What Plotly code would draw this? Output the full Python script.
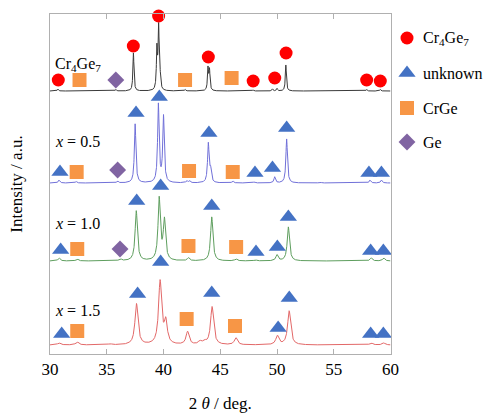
import numpy as np
import plotly.graph_objects as go

# ---------------- data ----------------
two_theta = np.linspace(30, 60, 3001)

# peak lists (position, height) for each pattern; baselines are vertical offsets
black_pos = [30.7, 35.8, 37.35, 39.42, 39.57, 39.7, 41.9, 43.92, 44.05, 47.9, 49.6, 50.0, 50.78, 57.9, 59.1]
black_h = [2, 1.5, 38, 40, 62, 12, 1.5, 22, 20, 1, 2, 2.5, 26, 1.5, 1.5]
black_w = 0.055
black_base = 263

blue_pos = [30.8, 32.3, 35.95, 37.5, 39.55, 40.0, 42.05, 42.3, 43.95, 44.15, 46.1, 48.0, 49.8, 50.85, 53.8, 58.2, 59.2]
blue_h = [3, 1.5, 2, 59, 78, 66, 2, 2, 39, 12, 2, 1, 6, 44, 1, 3, 3]
blue_w = 0.08
blue_base = 171

green_pos = [30.8, 32.4, 36.2, 37.6, 39.62, 40.08, 42.2, 44.25, 46.4, 48.1, 50.0, 51.0, 58.3, 59.4]
green_h = [3, 2, 2, 50, 62, 40, 3, 44, 2, 1, 6, 34, 3, 3]
green_w = 0.12
green_base = 93

red_pos = [30.8, 32.4, 35.3, 37.62, 39.7, 40.2, 42.12, 43.2, 43.6, 44.28, 46.38, 50.03, 51.07, 58.3, 59.4]
red_h = [2, 3, 1, 41, 63, 22, 13, 3, 3, 38, 7, 9, 34, 2, 2]
red_w = 0.16
red_base = 9

# phase markers per pattern
blk_circ_x = [30.73, 37.34, 39.57, 43.95, 47.9, 49.8, 50.8, 57.9, 59.1]
blk_circ_y = [274, 308, 338, 297, 273, 276, 301, 274, 273]
blk_sq_x = [32.6, 41.9, 46.0]
blk_sq_y = [274, 274, 276]
blk_dia_x = [35.8]
blk_dia_y = [274]

blu_tri_x = [30.88, 37.58, 39.63, 44.0, 48.06, 49.6, 50.85, 58.1, 59.2]
blu_tri_y = [182, 241, 257, 221, 181, 186, 226, 181, 181]
blu_sq_x = [32.35, 42.25, 46.1]
blu_sq_y = [182, 183, 182]
blu_dia_x = [35.96]
blu_dia_y = [184]

grn_tri_x = [30.94, 37.64, 39.75, 44.25, 48.15, 50.03, 51.0, 58.25, 59.37]
grn_tri_y = [104, 153, 168, 148, 102, 107, 137, 103, 103]
grn_sq_x = [32.4, 42.2, 46.4]
grn_sq_y = [105, 108, 107]
grn_dia_x = [36.17]
grn_dia_y = [105]

red_tri_x = [31.03, 37.72, 39.75, 44.25, 50.1, 51.08, 58.25, 59.37]
red_tri_y = [20, 60, 92, 61, 26, 56, 20, 20]
red_sq_x = [32.4, 42.04, 46.3]
red_sq_y = [23, 35, 28]

sample_labels = ["Cr<sub>4</sub>Ge<sub>7</sub>", "<i>x</i> = 0.5", "<i>x</i> = 1.0", "<i>x</i> = 1.5"]
label_y = [290, 213, 131, 44]

legend_names = ["Cr<sub>4</sub>Ge<sub>7</sub>", "unknown", "CrGe", "Ge"]
legend_y = [316, 281, 246, 212]

x_ticks = [30, 35, 40, 45, 50, 55, 60]

# ---------------- style ----------------
C_CIRC = "#FF0000"
C_TRI = "#4472C4"
C_SQ = "#F79646"
C_DIA = "#8064A2"
FONT = "Liberation Serif, Times New Roman, serif"


def pattern(pos, h, w, base):
    y = np.full_like(two_theta, float(base))
    for p, a in zip(pos, h):
        y += a / (1 + ((two_theta - p) / w) ** 2)
    return y


fig = go.Figure()

for pos, h, w, base, col in [
    (black_pos, black_h, black_w, black_base, "#3a3a3a"),
    (blue_pos, blue_h, blue_w, blue_base, "#7070D8"),
    (green_pos, green_h, green_w, green_base, "#5E9E5E"),
    (red_pos, red_h, red_w, red_base, "#E26868"),
]:
    fig.add_trace(go.Scatter(x=two_theta, y=pattern(pos, h, w, base), mode="lines",
                             line=dict(color=col, width=1), showlegend=False, hoverinfo="skip"))


def markers(x, y, sym, col, size):
    fig.add_trace(go.Scatter(x=x, y=y, mode="markers", showlegend=False, cliponaxis=False,
                             marker=dict(symbol=sym, color=col, size=size, line=dict(width=0))))


SZ = {"circle": 13, "triangle-up": 15, "square": 14, "diamond": 13}
COL = {"circle": C_CIRC, "triangle-up": C_TRI, "square": C_SQ, "diamond": C_DIA}

for x, y, s in [
    (blk_circ_x, blk_circ_y, "circle"), (blk_sq_x, blk_sq_y, "square"), (blk_dia_x, blk_dia_y, "diamond"),
    (blu_tri_x, blu_tri_y, "triangle-up"), (blu_sq_x, blu_sq_y, "square"), (blu_dia_x, blu_dia_y, "diamond"),
    (grn_tri_x, grn_tri_y, "triangle-up"), (grn_sq_x, grn_sq_y, "square"), (grn_dia_x, grn_dia_y, "diamond"),
    (red_tri_x, red_tri_y, "triangle-up"), (red_sq_x, red_sq_y, "square"),
]:
    markers(x, y, s, COL[s], SZ[s])

# legend drawn on a side axis (x2 in pixel-like units)
leg_syms = ["circle", "triangle-up", "square", "diamond"]
for sym, yy in zip(leg_syms, legend_y):
    fig.add_trace(go.Scatter(x=[407], y=[yy], mode="markers", xaxis="x2", yaxis="y2", showlegend=False,
                             cliponaxis=False,
                             marker=dict(symbol=sym, color=COL[sym], size=SZ[sym], line=dict(width=0))))
for name, yy in zip(legend_names, legend_y):
    fig.add_annotation(x=421, y=yy, xref="x2", yref="y2", text=name, showarrow=False,
                       xanchor="left", yanchor="middle", font=dict(family=FONT, size=16, color="black"))

for lab, yy in zip(sample_labels, label_y):
    fig.add_annotation(x=30.3, y=yy, xref="x", yref="y", text=lab, showarrow=False,
                       xanchor="left", yanchor="middle", font=dict(family=FONT, size=16, color="black"))

PLOT_FRAC = (390.5 - 50) / (489 - 50)

fig.update_layout(
    width=489, height=413, autosize=False,
    margin=dict(l=50, r=0, t=14, b=59, autoexpand=False),
    showlegend=False,
    paper_bgcolor="white", plot_bgcolor="white",
    font=dict(family=FONT, size=16, color="black"),
    xaxis=dict(domain=[0, PLOT_FRAC], range=[30, 60], tickvals=x_ticks, ticks="inside", ticklen=5,
               tickcolor="#b0b0b0", showline=True, linecolor="#b0b0b0", linewidth=1, mirror="ticks",
               showgrid=False, zeroline=False, tickfont=dict(family=FONT, size=17), automargin=False,
               title=dict(text="2 <i>θ</i> / deg.", font=dict(family=FONT, size=17), standoff=18)),
    yaxis=dict(range=[0, 340], showticklabels=False, ticks="", showline=True, linecolor="#b0b0b0",
               linewidth=1, mirror=True, showgrid=False, zeroline=False, automargin=False,
               title=dict(text="Intensity / a.u.", font=dict(family=FONT, size=17), standoff=22)),
    xaxis2=dict(domain=[PLOT_FRAC, 1], range=[390.5, 489], visible=False, anchor="y2", automargin=False),
    yaxis2=dict(range=[0, 340], visible=False, anchor="x2", domain=[0, 1], automargin=False),
)

fig.write_html("out.html")
